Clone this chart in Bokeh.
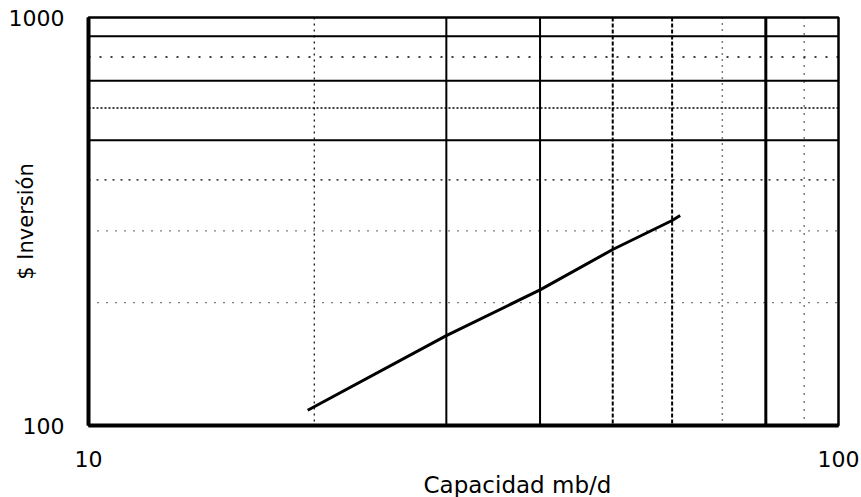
import math

from bokeh.embed import file_html
from bokeh.models import FixedTicker, PrintfTickFormatter, Span, Title
from bokeh.plotting import figure
from bokeh.resources import INLINE

# Investment curve: capacity (mb/d) vs. investment ($)
capacidad = [19.6, 30, 40, 50, 60, 61.5]
inversion = [109, 166, 215, 270, 318, 327]

# Axis ticks and grid positions (log scales)
x_ticks = [10, 100]
y_ticks = [100, 1000]
x_grid = [20, 30, 40, 50, 60, 70, 80, 90]
y_grid = [200, 300, 400, 500, 600, 700, 800, 900]

x_title = "Capacidad mb/d"
y_title = "$ Inversión"

FONT = "DejaVu Sans"

W, H = 861, 497
LEFT, RIGHT, TOP, BOTTOM = 88, 23, 17, 70

p = figure(
    width=W, height=H,
    x_axis_type="log", y_axis_type="log",
    x_range=(x_ticks[0], x_ticks[-1]), y_range=(y_ticks[0], y_ticks[-1]),
    output_backend="svg", toolbar_location=None,
    min_border_left=LEFT, min_border_right=RIGHT,
    min_border_top=TOP, min_border_bottom=BOTTOM,
    background_fill_color="white", border_fill_color="white",
)
p.grid.visible = False
p.outline_line_color = "black"
p.outline_line_width = 2.5

# line styles of the vertical grid lines, in order of x_grid
v_styles = [
    ("dotted", 1.2), ("solid", 2), ("solid", 2), ("4 2", 2),
    ("4 2", 2), ("1 5", 1.5), ("solid", 3), ("1 7", 1.5),
]
# line styles of the horizontal grid lines, in order of y_grid
h_styles = [
    ("1 8", 1.2), ("1 8", 1.2), ("2 6", 1.2), ("solid", 2),
    ("2 2", 1.5), ("solid", 2), ("2 9", 1.5), ("solid", 2),
]

for loc, (dash, w) in zip(x_grid, v_styles):
    p.add_layout(Span(location=loc, dimension="height", line_color="black",
                      line_width=w, line_dash=dash))
for loc, (dash, w) in zip(y_grid, h_styles):
    p.add_layout(Span(location=loc, dimension="width", line_color="black",
                      line_width=w, line_dash=dash))

p.line(capacidad, inversion, line_color="black", line_width=3)

for ax in (p.xaxis[0], p.yaxis[0]):
    ax.axis_line_color = "black"
    ax.axis_line_width = 4
    ax.major_tick_line_color = None
    ax.minor_tick_line_color = None
    ax.major_tick_out = 0
    ax.major_tick_in = 0
    ax.minor_tick_out = 0
    ax.minor_tick_in = 0
    ax.major_label_text_font = FONT
    ax.major_label_text_font_size = "22px"
    ax.major_label_text_color = "black"
    ax.formatter = PrintfTickFormatter(format="%d")

p.xaxis.ticker = FixedTicker(ticks=x_ticks)
p.yaxis.ticker = FixedTicker(ticks=y_ticks)
p.xaxis.major_label_standoff = 25
p.yaxis.major_label_standoff = 24

# y title sits over the tick-label column, measured from the axis line
p.yaxis.axis_label = y_title
p.yaxis.axis_label_standoff_mode = "axis"
p.yaxis.axis_label_standoff = 51
p.yaxis.axis_label_text_font = FONT
p.yaxis.axis_label_text_font_size = "21px"
p.yaxis.axis_label_text_font_style = "normal"
p.yaxis.axis_label_text_color = "black"

# x title below the axis, shifted right of the frame's left edge
p.add_layout(Title(text=x_title, align="left", offset=335, standoff=0,
                   text_font=FONT, text_font_size="23px",
                   text_font_style="normal", text_color="black"), "below")

open("out.html", "w").write(file_html(p, INLINE))
